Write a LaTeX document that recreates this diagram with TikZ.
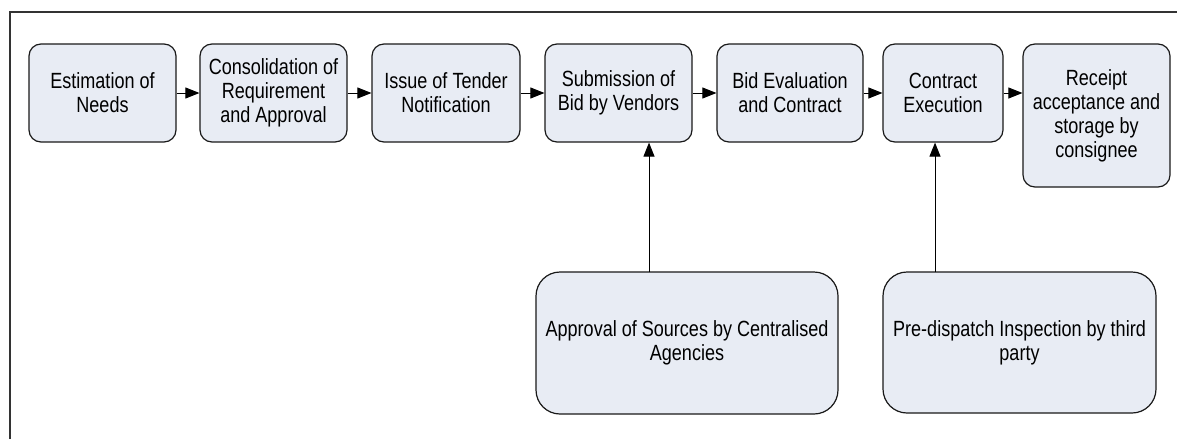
\documentclass[tikz,border=0pt]{standalone}
\usepackage{fontspec}
\setmainfont[FakeStretch=0.82]{Liberation Sans}
\usetikzlibrary{arrows.meta}
\definecolor{boxfill}{HTML}{E8ECF4}
\definecolor{frameline}{HTML}{333333}
\begin{document}
\begin{tikzpicture}[x=1pt,y=-1pt,
  stepbox/.style={draw=black!90, line width=1.2pt, fill=boxfill, rounded corners=12pt,
    align=center, inner sep=0pt, font=\fontsize{22}{24}\selectfont},
  bigbox/.style={stepbox, rounded corners=24pt},
  arr/.style={line width=1pt, -{Triangle[length=14pt,width=11pt]}}]
\useasboundingbox (0,0) rectangle (1177,439);
\fill[white] (0,0) rectangle (1177,439);
\draw[frameline, line width=2pt] (10,439) -- (10,12) -- (1177,12);

\node[stepbox, minimum width=147pt, minimum height=98pt] (n1) at (102.5,93) {Estimation of\\Needs};
\node[stepbox, minimum width=147pt, minimum height=98pt] (n2) at (273.5,93) {Consolidation of\\Requirement\\and Approval};
\node[stepbox, minimum width=148pt, minimum height=98pt] (n3) at (446,93) {Issue of Tender\\Notification};
\node[stepbox, minimum width=147pt, minimum height=98pt] (n4) at (618.5,93) {Submission of\\Bid by Vendors};
\node[stepbox, minimum width=146pt, minimum height=98pt] (n5) at (790,93) {Bid Evaluation\\and Contract};
\node[stepbox, minimum width=120pt, minimum height=98pt] (n6) at (943,93) {Contract\\Execution};
\node[stepbox, minimum width=147pt, minimum height=143pt] (n7) at (1096.5,115.5) {Receipt\\acceptance and\\storage by\\consignee};

\node[bigbox, minimum width=302pt, minimum height=142pt] (a1) at (687,343) {Approval of Sources by Centralised\\Agencies};
\node[bigbox, minimum width=273pt, minimum height=141pt] (a2) at (1019.5,342.5) {Pre-dispatch Inspection by third\\party};

\draw[arr] (n1.east) -- (n2.west);
\draw[arr] (n2.east) -- (n3.west);
\draw[arr] (n3.east) -- (n4.west);
\draw[arr] (n4.east) -- (n5.west);
\draw[arr] (n5.east) -- (n6.west);
\draw[arr] (n6.east) -- (n1.east -| n7.west);

\coordinate (c1) at (649,272);
\coordinate (c2) at (935,272);
\draw[arr] (c1) -- (c1 |- n4.south);
\draw[arr] (c2) -- (c2 |- n6.south);
\end{tikzpicture}
\end{document}
